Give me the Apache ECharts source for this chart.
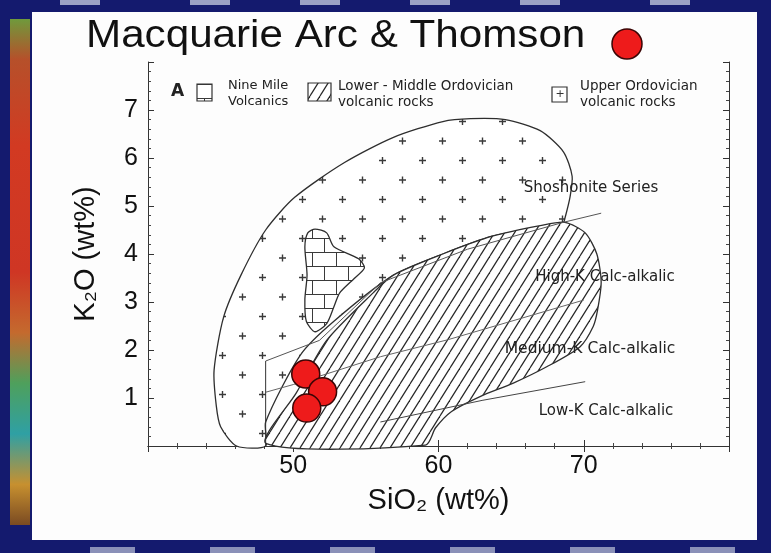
<!DOCTYPE html>
<html><head><meta charset="utf-8">
<script src="https://cdn.jsdelivr.net/npm/echarts@6/dist/echarts.min.js"></script>
<style>html,body{margin:0;padding:0;background:#141a6e;}#c{width:771px;height:553px;}</style>
</head><body><div id="c"></div>
<script>
// ---- data (SiO2 wt%, K2O wt%) ----
const upperOrdovicianField = [[46.1,0],[45.0,0.4],[44.7,0.84],[44.55,1.58],[45.2,2.68],[46.4,3.56],[48.1,4.5],[50.1,5.18],[53.5,5.9],[56.9,6.43],[60.3,6.76],[62.2,6.82],[64.6,6.8],[67.0,6.57],[68.6,6.13],[69.2,5.62],[69.05,5.18],[68.7,4.74],[68.6,4.66],[63.7,4.37],[60.3,4.0],[56.9,3.56],[52.8,2.6],[50.5,1.9],[48.1,0.5],[48.1,0]];
const lowerMiddleOrdovicianField = [[48.15,0.05],[50.2,1.1],[52.3,2.2],[55.5,3.19],[56.9,3.56],[60.3,4.0],[63.7,4.37],[67.0,4.59],[68.7,4.66],[70.1,4.44],[70.9,4.0],[71.2,3.41],[70.95,2.83],[70.65,2.49],[69.75,2.07],[67.45,1.65],[65.15,1.31],[62.86,1.03],[60.9,0.72],[59.8,0.38],[59.1,0.02]];
const nineMileField = [[50.8,4.15],[51.0,4.44],[51.5,4.52],[52.3,4.44],[52.8,4.15],[54.5,3.9],[54.9,3.71],[54.2,3.49],[53.2,3.19],[52.8,2.9],[52.3,2.55],[51.5,2.38],[50.9,2.6],[50.8,3.05],[50.95,3.56]];
const shoshoniteLine = [[48.1,1.77],[51.8,2.2],[56.0,3.4],[62.0,4.1],[68.6,4.66],[71.2,4.85]];
const highKLine = [[48.1,1.12],[50.0,1.28],[56.0,1.86],[60.6,2.21],[70.0,3.04]];
const lowKLine = [[56.0,0.5],[63.0,0.95],[70.1,1.34]];
const boundaryLine = [[48.1,0],[48.1,1.77]];
const thomsonSamples = [[50.86,1.50],[52.02,1.13],[50.93,0.79]];
const xTicks = [50,60,70];
const yTicks = [1,2,3,4,5,6,7];
const seriesLabels = ['Shoshonite Series','High-K Calc-alkalic','Medium-K Calc-alkalic','Low-K Calc-alkalic'];

// ---- patterns ----
function mk(w,h,draw){const c=document.createElement('canvas');c.width=w;c.height=h;const x=c.getContext('2d');x.fillStyle='#fff';x.fillRect(0,0,w,h);draw(x,w,h);return c;}
const plusPat = mk(40,39,(x,w,h)=>{x.strokeStyle='#3a3a3a';x.lineWidth=1.4;
  const pts=[[2.5,24],[22.5,4.5]];
  for(const [px,py] of pts){for(const dx of [-w,0,w])for(const dy of [-h,0,h]){const a=px+dx,b=py+dy;
    x.beginPath();x.moveTo(a-3.5,b);x.lineTo(a+3.5,b);x.moveTo(a,b-3.5);x.lineTo(a,b+3.5);x.stroke();}}});
const hatchPat = mk(10,16,(x,w,h)=>{x.strokeStyle='#262626';x.lineWidth=1.2;
  for(const k of [-1,0,1]){x.beginPath();x.moveTo(k*w,h);x.lineTo((k+1)*w,0);x.stroke();}});
const brickPat = mk(24,28,(x,w,h)=>{x.strokeStyle='#3a3a3a';x.lineWidth=1;
  x.beginPath();x.moveTo(0,0.5);x.lineTo(w,0.5);x.moveTo(0,14.5);x.lineTo(w,14.5);
  x.moveTo(0.5,0);x.lineTo(0.5,14);x.moveTo(12.5,14);x.lineTo(12.5,28);x.stroke();});

function polySeries(name,pts,fill,z){
  return {type:'custom',name,z,data:pts,encode:{x:0,y:1},silent:true,
    renderItem:(params,api)=>{ if(params.dataIndex!==0) return null;
      return {type:'polygon',shape:{points:pts.map(p=>api.coord(p)),smooth:0.25},
        style:{fill:{image:fill,repeat:'repeat'},stroke:'#2e2e2e',lineWidth:1.3}}; }};
}
function lineSeries(d,col){return {type:'line',data:d,symbol:'none',z:6,silent:true,
  lineStyle:{color:col,width:1}};}

const chart = echarts.init(document.getElementById('c'),null,{renderer:'canvas'});
const F='"Liberation Sans", Arial, sans-serif';
const G='"DejaVu Sans", sans-serif';
const axisBase = {type:'value',axisLine:{show:true,lineStyle:{color:'#333',width:1}},
  axisTick:{show:true,inside:true,length:6,lineStyle:{color:'#333'}},
  minorTick:{show:true,splitNumber:5,length:3,lineStyle:{color:'#444'}},
  splitLine:{show:false}};
chart.setOption({
  backgroundColor:'#141a6e',
  animation:false,
  grid:{left:148,top:62,right:42,bottom:107},
  xAxis:[
    Object.assign({},axisBase,{min:40,max:80,interval:10,position:'bottom',
      axisLabel:{formatter:v=>xTicks.includes(v)?String(v):'',fontFamily:F,fontSize:25,color:'#111',margin:8},
      name:'SiO₂ (wt%)',nameLocation:'middle',nameGap:40,nameTextStyle:{fontFamily:F,fontSize:29,color:'#111'}}),
    Object.assign({},axisBase,{min:40,max:80,interval:10,position:'top',axisLabel:{show:false}})
  ],
  yAxis:[
    Object.assign({},axisBase,{min:0,max:8,interval:1,position:'left',
      axisLabel:{formatter:v=>yTicks.includes(v)?String(v):'',fontFamily:F,fontSize:25,color:'#111',margin:10},
      name:'K₂O (wt%)',nameLocation:'middle',nameRotate:90,nameGap:48,nameTextStyle:{fontFamily:F,fontSize:29,color:'#111'}}),
    Object.assign({},axisBase,{min:0,max:8,interval:1,position:'right',axisLabel:{show:false}})
  ],
  series:[
    polySeries('Upper Ordovician volcanic rocks',upperOrdovicianField,plusPat,2),
    polySeries('Lower - Middle Ordovician volcanic rocks',lowerMiddleOrdovicianField,hatchPat,3),
    polySeries('Nine Mile Volcanics',nineMileField,brickPat,4),
    lineSeries(shoshoniteLine,'#555'),
    lineSeries(highKLine,'#666'),
    lineSeries(lowKLine,'#444'),
    lineSeries(boundaryLine,'#333'),
    {type:'scatter',name:'Macquarie Arc & Thomson',data:thomsonSamples,z:10,symbol:'circle',symbolSize:28,
      itemStyle:{color:'#ee1b1b',borderColor:'#3a0505',borderWidth:1.5,opacity:1}}
  ],
  graphic:[
    {type:'rect',z:-10,shape:{x:32,y:12,width:725,height:528},style:{fill:'#fdfdfd'}},
    {type:'rect',z:-10,shape:{x:10,y:19,width:20,height:506},style:{fill:new echarts.graphic.LinearGradient(0,0,0,1,[
      {offset:0,color:'#6f9a3c'},{offset:0.08,color:'#b6502a'},{offset:0.25,color:'#d23a22'},{offset:0.5,color:'#cf3624'},
      {offset:0.62,color:'#c46a2e'},{offset:0.72,color:'#4ea05c'},{offset:0.82,color:'#2fa0a4'},{offset:0.92,color:'#c7902f'},{offset:1,color:'#7a4a22'}])}},
    ...[60,190,300,410,520,650].map(x=>({type:'rect',z:-9,shape:{x:x,y:0,width:40,height:5},style:{fill:'#9aa0c4'}})),
    ...[90,210,330,450,570,690].map(x=>({type:'rect',z:-9,shape:{x:x,y:547,width:45,height:6},style:{fill:'#8a90b8'}})),
    {type:'text',x:86,y:37,scaleX:1.11,z:20,style:{text:'Macquarie Arc & Thomson',font:'38px '+F,fill:'#111',textVerticalAlign:'middle'}},
    {type:'circle',z:20,shape:{cx:627,cy:44,r:15},style:{fill:'#ee1b1b',stroke:'#3a0505',lineWidth:1.5}},
    {type:'text',x:171,y:92,z:20,style:{text:'A',font:'bold 17px '+G,fill:'#222',textVerticalAlign:'middle'}},
    {type:'rect',z:20,shape:{x:197,y:84,width:15,height:17},style:{fill:{image:brickPat,repeat:'repeat'},stroke:'#333',lineWidth:1.2}},
    {type:'text',x:228,y:94,z:20,style:{text:'Nine Mile\nVolcanics',font:'13px '+G,fill:'#222',lineHeight:16,textVerticalAlign:'middle'}},
    {type:'rect',z:20,shape:{x:308,y:83,width:23,height:18},style:{fill:{image:hatchPat,repeat:'repeat'},stroke:'#333',lineWidth:1.2}},
    {type:'text',x:338,y:94,z:20,style:{text:'Lower - Middle Ordovician\nvolcanic rocks',font:'13.5px '+G,fill:'#222',lineHeight:16,textVerticalAlign:'middle'}},
    {type:'rect',z:20,shape:{x:552,y:87,width:15,height:15},style:{fill:'#fff',stroke:'#333',lineWidth:1.2}},
    {type:'text',x:555.5,y:94.5,z:21,style:{text:'+',font:'11px '+G,fill:'#333',textVerticalAlign:'middle'}},
    {type:'text',x:580,y:94,z:20,style:{text:'Upper Ordovician\nvolcanic rocks',font:'13.5px '+G,fill:'#222',lineHeight:16,textVerticalAlign:'middle'}},
    {type:'text',x:591,y:188,z:20,style:{text:seriesLabels[0],font:'15px '+G,fill:'#222',textAlign:'center',textVerticalAlign:'middle'}},
    {type:'text',x:605,y:277,z:20,style:{text:seriesLabels[1],font:'15px '+G,fill:'#222',textAlign:'center',textVerticalAlign:'middle'}},
    {type:'text',x:590,y:349,z:20,style:{text:seriesLabels[2],font:'15.5px '+G,fill:'#222',textAlign:'center',textVerticalAlign:'middle'}},
    {type:'text',x:606,y:411,z:20,style:{text:seriesLabels[3],font:'15px '+G,fill:'#222',textAlign:'center',textVerticalAlign:'middle'}}
  ]
});
</script></body></html>
